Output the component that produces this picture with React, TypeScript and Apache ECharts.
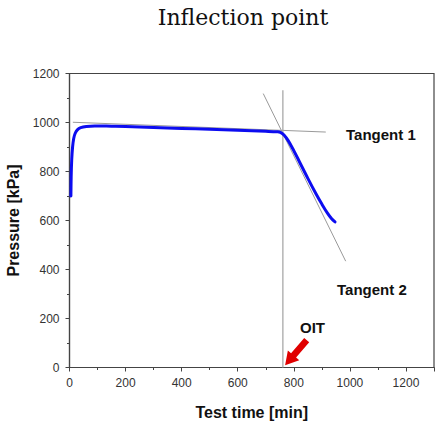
import React, { useEffect, useRef } from "react";
import * as echarts from "echarts";

// Measured curve (Test time [min] vs Pressure [kPa])
const timeMin = [5, 6, 8, 11, 15, 20, 28, 40, 60, 90, 150, 200, 300, 400, 500, 600, 700, 740, 752, 765, 780, 800, 820, 850, 880, 900, 920, 935, 947];
const pressureKPa = [700, 780, 850, 900, 935, 955, 970, 979, 984, 986, 985, 984, 980, 976, 972, 968, 964, 962, 960, 949, 926, 885, 840, 772, 707, 667, 630, 607, 594];

// Construction lines
const tangent1X = [12, 914];
const tangent1Y = [1001, 961];
const tangent2X = [691, 985];
const tangent2Y = [1118, 434];
const oitX = [761, 761];
const oitY = [0, 1132];

// Arrow (tail -> tip) in data coords
const arrowTail = [846, 112];
const arrowTip = [769, 9];

const xTicks = { min: 0, max: 1300, interval: 200 };
const yTicks = { min: 0, max: 1200, interval: 200 };

const labelColor = "#333";
const axisColor = "#444";
const guideColor = "#9a9a9a";

export default function App() {
  const ref = useRef<HTMLDivElement>(null);
  useEffect(() => {
    if (!ref.current) return;
    const chart = echarts.init(ref.current, undefined, { renderer: "svg" });
    const zip = (xs: number[], ys: number[]) => xs.map((x, i) => [x, ys[i]]);
    const fontFamily = "Liberation Sans, Arial, sans-serif";
    chart.setOption({
      animation: false,
      backgroundColor: "#fff",
      title: {
        text: "Inflection point",
        left: 238,
        top: 1,
        textAlign: "center",
        textStyle: { fontFamily: "DejaVu Serif, serif", fontWeight: "normal", fontSize: 22, color: "#111" },
      },
      grid: {
        left: 69.5,
        right: 3,
        top: 73.5,
        bottom: 58.5,
        show: true,
        borderColor: axisColor,
        borderWidth: 1.2,
        containLabel: false,
        outerBoundsMode: "none",
      },
      xAxis: {
        type: "value",
        min: xTicks.min,
        max: xTicks.max,
        interval: xTicks.interval,
        name: "Test time [min]",
        nameLocation: "middle",
        nameGap: 37,
        nameTextStyle: { fontFamily, fontWeight: "bold", fontSize: 16, color: "#111" },
        axisLine: { show: true, lineStyle: { color: axisColor, width: 1.2 } },
        axisTick: { show: true, length: 4, lineStyle: { color: axisColor } },
        minorTick: { show: true, splitNumber: 2, length: 2.5, lineStyle: { color: axisColor } },
        axisLabel: {
          margin: 9,
          fontFamily,
          fontSize: 12,
          color: labelColor,
          showMaxLabel: false,
          formatter: (v: number) => String(v),
        },
        splitLine: { show: false },
      },
      yAxis: {
        type: "value",
        min: yTicks.min,
        max: yTicks.max,
        interval: yTicks.interval,
        name: "Pressure [kPa]",
        nameLocation: "middle",
        nameGap: 44,
        nameTextStyle: { fontFamily, fontWeight: "bold", fontSize: 16, color: "#111" },
        axisLine: { show: true, lineStyle: { color: axisColor, width: 1.2 } },
        axisTick: { show: true, length: 4, lineStyle: { color: axisColor } },
        minorTick: { show: true, splitNumber: 2, length: 2.5, lineStyle: { color: axisColor } },
        axisLabel: { margin: 10, fontFamily, fontSize: 12, color: labelColor, formatter: (v: number) => String(v) },
        splitLine: { show: false },
      },
      series: [
        {
          type: "line",
          data: zip(tangent1X, tangent1Y),
          symbol: "none",
          lineStyle: { color: guideColor, width: 1 },
          z: 1,
        },
        {
          type: "line",
          data: zip(tangent2X, tangent2Y),
          symbol: "none",
          lineStyle: { color: guideColor, width: 1 },
          z: 1,
        },
        {
          type: "line",
          data: zip(oitX, oitY),
          symbol: "none",
          lineStyle: { color: "#a8a8a8", width: 1.3 },
          z: 1,
        },
        {
          type: "line",
          data: zip(timeMin, pressureKPa),
          symbol: "none",
          smooth: 0.35,
          lineStyle: { color: "#0c0cf0", width: 3, join: "round", cap: "round" },
          z: 3,
        },
        {
          type: "custom",
          data: [[arrowTail[0], arrowTail[1], arrowTip[0], arrowTip[1]]],
          renderItem: (params: any, api: any) => {
            const t = api.coord([api.value(0), api.value(1)]);
            const h = api.coord([api.value(2), api.value(3)]);
            const dx = h[0] - t[0];
            const dy = h[1] - t[1];
            const len = Math.sqrt(dx * dx + dy * dy);
            const ux = dx / len, uy = dy / len;
            const px = -uy, py = ux;
            const headLen = 13, headW = 7.5, shaftW = 3.3;
            const bx = h[0] - ux * headLen, by = h[1] - uy * headLen;
            const pts = [
              [t[0] + px * shaftW, t[1] + py * shaftW],
              [bx + px * shaftW, by + py * shaftW],
              [bx + px * headW, by + py * headW],
              [h[0], h[1]],
              [bx - px * headW, by - py * headW],
              [bx - px * shaftW, by - py * shaftW],
              [t[0] - px * shaftW, t[1] - py * shaftW],
            ];
            return { type: "polygon", shape: { points: pts }, style: { fill: "#e00000" } };
          },
          z: 5,
        },
      ],
      graphic: [
        {
          type: "text",
          left: 346,
          top: 127,
          style: { text: "Tangent 1", fontFamily, fontWeight: "bold", fontSize: 15, fill: "#111" },
        },
        {
          type: "text",
          left: 337,
          top: 282,
          style: { text: "Tangent 2", fontFamily, fontWeight: "bold", fontSize: 15, fill: "#111" },
        },
        {
          type: "text",
          left: 300,
          top: 320,
          style: { text: "OIT", fontFamily, fontWeight: "bold", fontSize: 15, fill: "#111" },
        },
      ],
    });
    return () => chart.dispose();
  }, []);
  return (
    <div
      ref={ref}
      style={{ position: "fixed", left: 0, top: 0, width: 437, height: 426, background: "#fff" }}
    />
  );
}
